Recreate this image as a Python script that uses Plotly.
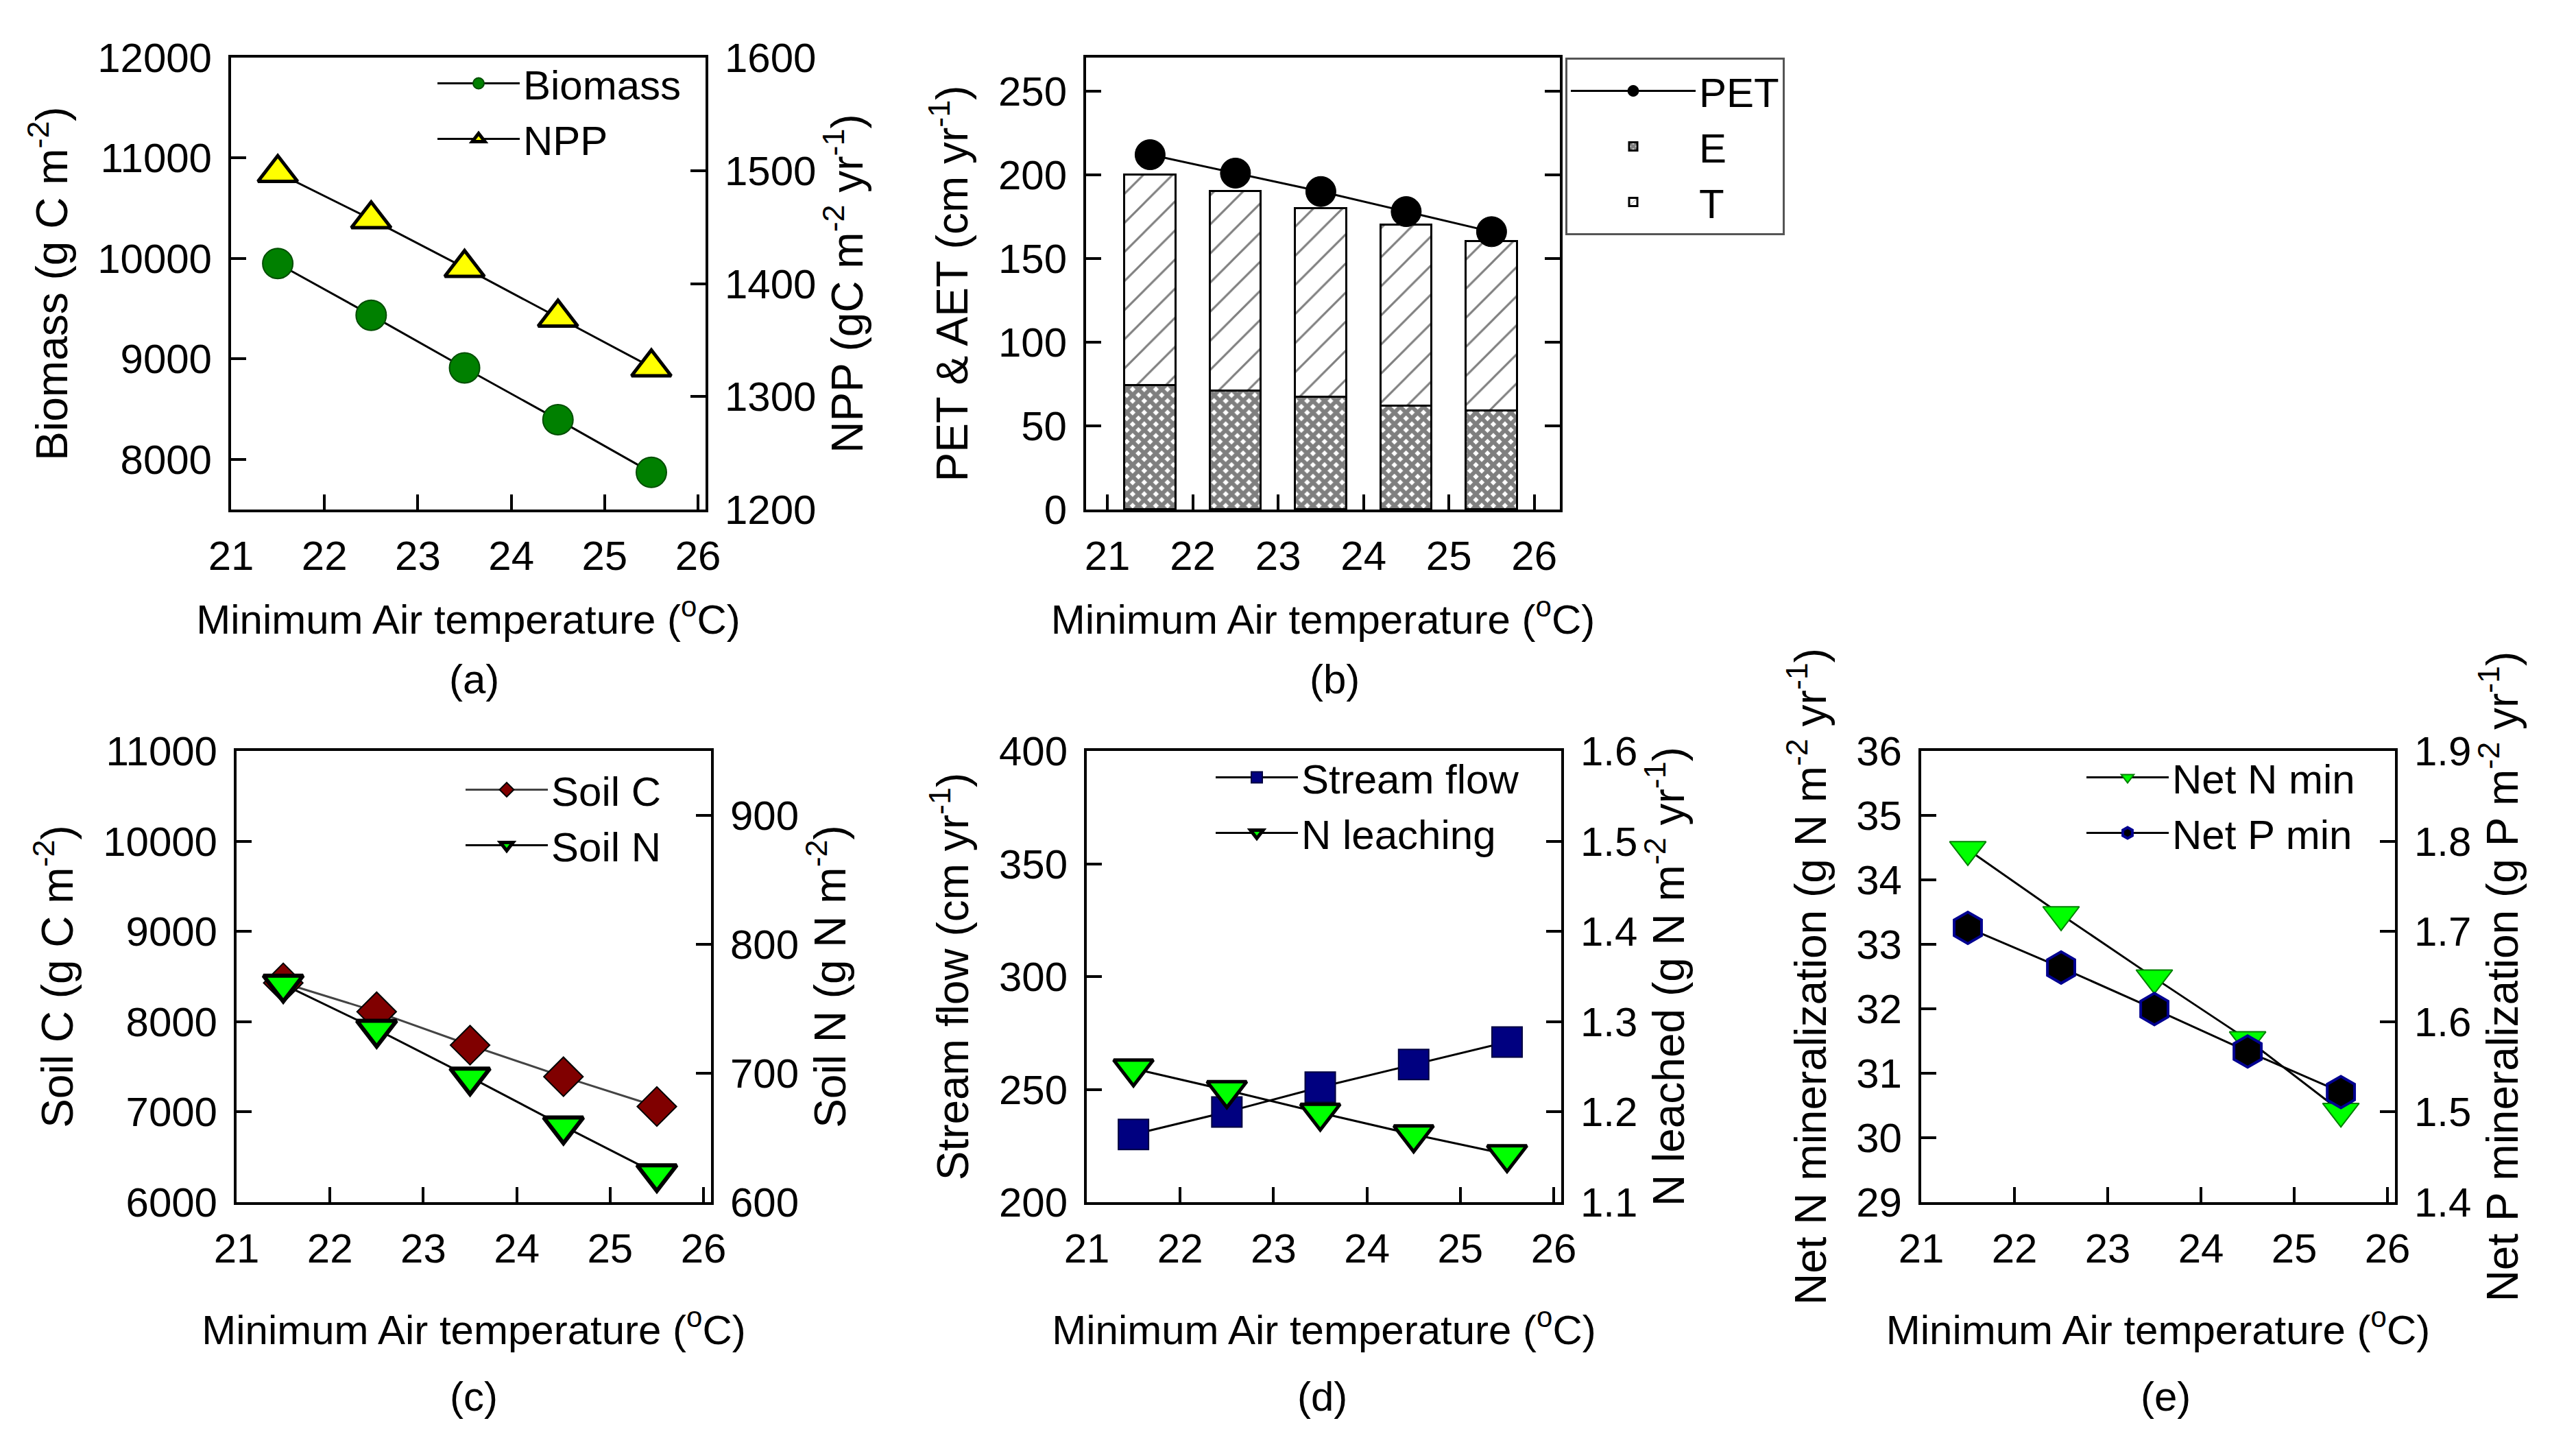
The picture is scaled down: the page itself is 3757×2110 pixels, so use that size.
"""
Ecosystem response to minimum air temperature - five panel figure
"""

import plotly.graph_objects as go

# ---- data ----
temp = [21.5, 22.5, 23.5, 24.5, 25.5]

# (a)
biomass = [9950, 9435, 8910, 8395, 7870]
npp = [1498, 1457, 1414, 1370, 1326]

# (b)
pet = [212, 201, 190, 178, 166]
evap = [74, 71, 67, 62, 59]
transp = [126, 119, 113, 108, 101]

# (c)
soil_c = [8430, 8110, 7740, 7390, 7060]
soil_n = [769, 734, 697, 659, 622]

# (d)
stream_flow = [230, 240, 251, 261, 271]
n_leached = [1.248, 1.224, 1.199, 1.175, 1.153]

# (e)
net_n_min = [34.47, 33.46, 32.48, 31.52, 30.41]
net_p_min = [1.704, 1.660, 1.614, 1.567, 1.522]

panel_labels = ['(a)', '(b)', '(c)', '(d)', '(e)']

W, H = 3757, 2110
PAGE_PAD = 8  # default body margin of the html page
FONT = 'Arial, Liberation Sans, sans-serif'
TICK_FONT = dict(family=FONT, size=60, color='black')
XTITLE_FONT = dict(family=FONT, size=60, color='black')
YTITLE_FONT = dict(family=FONT, size=64, color='black')
LEGEND_FONT = dict(family=FONT, size=60, color='black')
XTITLE = 'Minimum Air temperature (<sup>o</sup>C)'


def px_x(p):
    return (p - PAGE_PAD) / W


def px_y(p):
    return 1 - (p - PAGE_PAD) / H


# subplot boxes in pixels (left, right, top, bottom)
boxes = {
    'a': (337, 1029, 84, 743),
    'b': (1584, 2275, 84, 743),
    'c': (345, 1037, 1095, 1753),
    'd': (1585, 2277, 1095, 1753),
    'e': (2802, 3493, 1095, 1753),
}


def xdom(k):
    return [px_x(boxes[k][0]), px_x(boxes[k][1])]


def ydom(k):
    return [px_y(boxes[k][3]), px_y(boxes[k][2])]


def x_axis(k, anchor, rng, standoff=40):
    return dict(
        domain=xdom(k), anchor=anchor, range=rng,
        tick0=21, dtick=1, ticks='inside', ticklen=22, tickwidth=4,
        tickcolor='black', showline=True, linewidth=4, linecolor='black',
        mirror=True, showgrid=False, zeroline=False, tickfont=TICK_FONT,
        ticklabelstandoff=12, automargin=False,
        title=dict(text=XTITLE, font=XTITLE_FONT, standoff=standoff),
    )


def y_axis(k, anchor, rng, dtick, title, side='left', overlaying=None,
           mirror=False, standoff=24, fmt=None):
    ax = dict(
        anchor=anchor, range=rng, dtick=dtick, side=side,
        ticks='inside', ticklen=22, tickwidth=4, tickcolor='black',
        showline=True, linewidth=4, linecolor='black', mirror=mirror,
        showgrid=False, zeroline=False, tickfont=TICK_FONT,
        ticklabelstandoff=12, automargin=False,
        title=dict(text=title, font=YTITLE_FONT, standoff=standoff),
    )
    if fmt:
        ax['tickformat'] = fmt
    if overlaying:
        ax['overlaying'] = overlaying
    else:
        ax['domain'] = ydom(k)
    return ax


def line_trace(x, y, name, xa, ya, legend, symbol, size, fill, edge, edge_w,
               line_color='black'):
    return go.Scatter(
        x=x, y=y, name=name, xaxis=xa, yaxis=ya, legend=legend,
        mode='lines+markers',
        line=dict(color=line_color, width=3),
        marker=dict(symbol=symbol, size=size, color=fill,
                    line=dict(color=edge, width=edge_w)),
    )


fig = go.Figure()

# (a) Biomass and NPP
fig.add_trace(line_trace(temp, biomass, 'Biomass', 'x', 'y', 'legend',
                         'circle', 44, '#008000', '#004d00', 2))
fig.add_trace(line_trace(temp, npp, 'NPP', 'x', 'y2', 'legend',
                         'triangle-up', 50, '#ffff00', 'black', 5))

# (b) PET and AET split into E and T
fig.add_trace(go.Bar(
    x=temp, y=evap, name='E', xaxis='x2', yaxis='y3', legend='legend2',
    width=0.6, legendrank=2,
    marker=dict(color='white', line=dict(color='black', width=3),
                pattern=dict(shape='x', size=12, solidity=0.75,
                             fgcolor='black', bgcolor='white')),
))
fig.add_trace(go.Bar(
    x=temp, y=transp, name='T', xaxis='x2', yaxis='y3', legend='legend2',
    width=0.6, legendrank=3,
    marker=dict(color='white', line=dict(color='black', width=3),
                pattern=dict(shape='/', size=30, solidity=0.1,
                             fgcolor='black', bgcolor='white')),
))
pet_trace = line_trace(temp, pet, 'PET', 'x2', 'y3', 'legend2',
                       'circle', 44, 'black', 'black', 1)
pet_trace.legendrank = 1
fig.add_trace(pet_trace)

# (c) Soil C and N
fig.add_trace(line_trace(temp, soil_c, 'Soil C', 'x3', 'y4', 'legend3',
                         'diamond', 44, '#800000', 'black', 2,
                         line_color='#444444'))
fig.add_trace(line_trace(temp, soil_n, 'Soil N', 'x3', 'y5', 'legend3',
                         'triangle-down', 50, '#00ff00', 'black', 6))

# (d) Stream flow and N leaching
fig.add_trace(line_trace(temp, stream_flow, 'Stream flow', 'x4', 'y6',
                         'legend4', 'square', 44, '#000080', '#000040', 2))
fig.add_trace(line_trace(temp, n_leached, 'N leaching', 'x4', 'y7',
                         'legend4', 'triangle-down', 50, '#00ff00', 'black', 5))

# (e) Net N and P mineralization
fig.add_trace(line_trace(temp, net_n_min, 'Net N min', 'x5', 'y8', 'legend5',
                         'triangle-down', 46, '#00ff00', '#008000', 2))
fig.add_trace(line_trace(temp, net_p_min, 'Net P min', 'x5', 'y9', 'legend5',
                         'hexagon', 46, 'black', '#000090', 4))


def legend_at(text_left, rows_mid, itemwidth=120):
    # legend text starts itemwidth + 24 px after the legend's left edge,
    # rows are 85 px apart for this font
    return dict(
        x=px_x(text_left - itemwidth - 24), xanchor='left',
        y=px_y(rows_mid - 42 - 49), yanchor='top',
        font=LEGEND_FONT, itemwidth=itemwidth, bgcolor='rgba(0,0,0,0)',
        borderwidth=0, tracegroupgap=0, traceorder='normal',
    )


leg_b = dict(
    x=px_x(2283), xanchor='left', y=px_y(84), yanchor='top',
    font=LEGEND_FONT, itemwidth=182, bgcolor='white',
    borderwidth=3, bordercolor='#555555', tracegroupgap=0,
    traceorder='normal',
)

fig.update_layout(
    width=W, height=H,
    margin=dict(l=0, r=0, t=0, b=0, autoexpand=False),
    paper_bgcolor='white', plot_bgcolor='white',
    font=dict(family=FONT, color='black'),
    barmode='stack', bargap=0,
    showlegend=True,
    legend=legend_at(777, 167),
    legend2=leg_b,
    legend3=legend_at(818, 1197),
    legend4=legend_at(1912, 1179),
    legend5=legend_at(3182, 1179),
    # (a)
    xaxis=x_axis('a', 'y', [21, 26.08]),
    yaxis=y_axis('a', 'x', [7500, 12000], 1000,
                 'Biomass (g C m<sup>-2</sup>)', fmt='d'),
    yaxis2=y_axis('a', 'x', [1200, 1600], 100,
                  'NPP (gC m<sup>-2</sup> yr<sup>-1</sup>)',
                  side='right', overlaying='y', standoff=20),
    # (b)
    xaxis2=x_axis('b', 'y3', [20.75, 26.3]),
    yaxis3=y_axis('b', 'x2', [0, 270], 50,
                  'PET & AET (cm yr<sup>-1</sup>)', mirror='ticks'),
    # (c)
    xaxis3=x_axis('c', 'y4', [21, 26.08], standoff=66),
    yaxis4=y_axis('c', 'x3', [6000, 11000], 1000,
                  'Soil C (g C m<sup>-2</sup>)', fmt='d'),
    yaxis5=y_axis('c', 'x3', [600, 950], 100,
                  'Soil N (g N m<sup>-2</sup>)',
                  side='right', overlaying='y4', standoff=20),
    # (d)
    xaxis4=x_axis('d', 'y6', [21, 26.08], standoff=66),
    yaxis6=y_axis('d', 'x4', [200, 400], 50,
                  'Stream flow (cm yr<sup>-1</sup>)'),
    yaxis7=y_axis('d', 'x4', [1.1, 1.6], 0.1,
                  'N leached (g N m<sup>-2</sup> yr<sup>-1</sup>)',
                  side='right', overlaying='y6', standoff=20, fmt='.1f'),
    # (e)
    xaxis5=x_axis('e', 'y8', [21, 26.08], standoff=66),
    yaxis8=y_axis('e', 'x5', [29, 36], 1,
                  'Net N mineralization (g N m<sup>-2</sup> yr<sup>-1</sup>)'),
    yaxis9=y_axis('e', 'x5', [1.4, 1.9], 0.1,
                  'Net P mineralization (g P m<sup>-2</sup> yr<sup>-1</sup>)',
                  side='right', overlaying='y8', standoff=20, fmt='.1f'),
)

# panel labels below each subplot
label_pos = [(691, 990), (1946, 990), (691, 2036), (1928, 2036), (3158, 2036)]
for text, (lx, ly) in zip(panel_labels, label_pos):
    fig.add_annotation(text=text, x=px_x(lx), y=px_y(ly), xref='paper',
                       yref='paper', xanchor='center', yanchor='middle',
                       showarrow=False,
                       font=dict(family=FONT, size=60, color='black'))

fig.write_html("out.html")
